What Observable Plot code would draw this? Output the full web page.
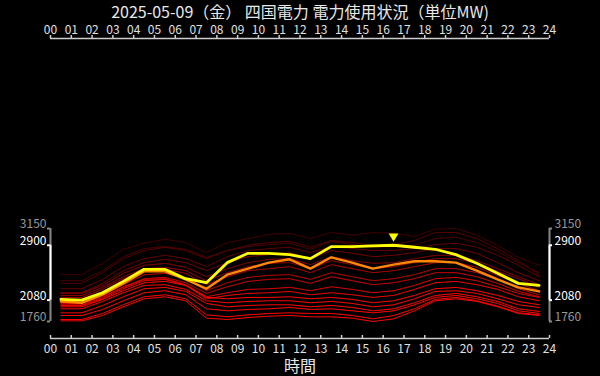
<!DOCTYPE html>
<html><head><meta charset="utf-8">
<script src="https://cdn.jsdelivr.net/npm/d3@7"></script>
<script src="https://cdn.jsdelivr.net/npm/@observablehq/plot@0.6"></script>
<style>
html,body{margin:0;padding:0;background:#000;}
#chart{width:600px;height:376px;overflow:hidden;}
</style></head><body><div id="chart"></div>
<script>
const titleText = "2025-05-09（金） 四国電力 電力使用状況（単位MW)";
const xLabel = "時間";
const hours = [0.5,1.5,2.5,3.5,4.5,5.5,6.5,7.5,8.5,9.5,10.5,11.5,12.5,13.5,14.5,15.5,16.5,17.5,18.5,19.5,20.5,21.5,22.5,23.5];
const tickHours = [0,1,2,3,4,5,6,7,8,9,10,11,12,13,14,15,16,17,18,19,20,21,22,23,24];
const yDomain = [1506, 5991];
const allMin = 1760, allMax = 3150, todayMin = 2080, todayMax = 2900;
const peakHour = 16.5;

const today =     [2090,2080,2190,2360,2540,2540,2400,2340,2640,2780,2780,2760,2700,2880,2880,2890,2900,2870,2840,2760,2630,2480,2330,2300];
const yesterday = [2060,2040,2160,2330,2510,2510,2390,2250,2460,2550,2640,2690,2550,2720,2640,2550,2610,2660,2660,2640,2520,2390,2270,2210];

const p01 = [2460,2460,2630,2840,2930,2990,2940,2790,2940,3000,3060,3080,3000,3090,3050,3090,3080,3030,3140,3150,3050,2900,2720,2600];
const p02 = [2370,2370,2520,2730,2850,2880,2840,2720,2820,2880,2910,2930,2840,2960,2910,2870,2880,2900,3000,3020,2940,2810,2640,2490];
const p03 = [2330,2330,2490,2700,2820,2870,2820,2700,2820,2900,2940,2960,2870,2970,2940,2900,2910,2970,3090,3090,3000,2850,2670,2460];
const p04 = [2250,2250,2390,2580,2700,2750,2700,2580,2730,2820,2850,2870,2790,2880,2850,2820,2820,2850,2910,2930,2870,2750,2600,2430];
const p05 = [2190,2190,2330,2520,2640,2690,2640,2520,2640,2730,2760,2790,2700,2820,2780,2730,2750,2790,2850,2850,2780,2640,2490,2370];
const p06 = [2180,2180,2300,2480,2600,2630,2570,2430,2550,2640,2690,2700,2610,2730,2670,2630,2640,2700,2750,2750,2670,2550,2430,2310];
const p07 = [2150,2150,2270,2430,2550,2570,2520,2370,2490,2580,2630,2640,2550,2670,2610,2550,2580,2640,2700,2700,2630,2510,2400,2270];
const p08 = [2120,2120,2240,2400,2520,2540,2480,2310,2430,2520,2550,2580,2490,2610,2550,2490,2520,2580,2640,2640,2570,2450,2330,2220];
const p09 = [2040,2040,2160,2310,2460,2480,2400,2220,2340,2420,2450,2460,2390,2490,2430,2370,2400,2460,2550,2550,2490,2390,2250,2160];
const p10 = [2030,2030,2130,2280,2400,2420,2340,2180,2280,2360,2390,2400,2330,2430,2370,2310,2340,2400,2490,2490,2430,2330,2210,2130];
const p11 = [2010,2010,2120,2270,2390,2400,2310,2130,2190,2240,2250,2270,2220,2280,2240,2190,2220,2300,2400,2420,2370,2280,2180,2120];
const p12 = [2000,2000,2100,2250,2370,2390,2300,2100,2150,2180,2190,2210,2160,2190,2160,2120,2150,2240,2340,2360,2310,2240,2130,2070];
const p13 = [1980,1980,2090,2220,2340,2360,2300,2120,2100,2120,2120,2130,2100,2120,2090,2040,2070,2150,2250,2270,2220,2150,2060,2010];
const p14 = [1950,1950,2060,2190,2300,2310,2240,2070,2040,2060,2070,2070,2040,2060,2030,1980,2010,2100,2210,2220,2180,2100,2010,1970];
const p15 = [1890,1890,2000,2130,2250,2270,2210,2030,1980,2000,2010,2010,1980,2000,1970,1920,1950,2040,2150,2180,2130,2060,1950,1910];
const p16 = [1850,1850,1940,2070,2190,2220,2160,1950,1920,1940,1950,1970,1940,1950,1920,1890,1920,2010,2120,2150,2100,2030,1920,1880];
const p17 = [1790,1790,1880,2010,2130,2160,2100,1860,1830,1860,1880,1890,1880,1880,1850,1800,1850,1950,2090,2120,2070,1990,1890,1860];
const p18 = [1770,1770,1850,1980,2100,2130,2070,1810,1790,1820,1840,1850,1830,1830,1810,1760,1800,1920,2070,2100,2060,1980,1880,1850];
const pastSeries = [p01,p02,p03,p04,p05,p06,p07,p08,p09,p10,p11,p12,p13,p14,p15,p16,p17,p18];
const pastColors = ["#420000","#4c0000","#580000","#640000","#740000","#840000","#940000","#a80000","#bc0000","#cc0000","#dd0000","#ee0000","#ff0000","#ff0000","#ff0000","#ff0000","#ff0000","#ff0000"];

const pastRows = [];
pastSeries.forEach((vals, i) => vals.forEach((v, j) => pastRows.push({s: i, hour: hours[j], value: v, color: pastColors[i]})));
const todayRows = today.map((v, j) => ({hour: hours[j], value: v}));
const yestRows = yesterday.map((v, j) => ({hour: hours[j], value: v}));
const pad2 = d => String(d).padStart(2, "0");

const chart = Plot.plot({
  width: 600, height: 376,
  marginTop: 38, marginBottom: 38, marginLeft: 50, marginRight: 51,
  style: {background: "#000", color: "#ddd", fontFamily: "'Noto Sans CJK JP','Noto Sans',sans-serif", fontSize: "12px", overflow: "visible"},
  x: {domain: [0, 24], axis: null},
  y: {domain: yDomain, axis: null},
  marks: [
    Plot.line(pastRows, {x: "hour", y: "value", z: "s", stroke: "color", strokeWidth: 1}),
    Plot.line(yestRows, {x: "hour", y: "value", stroke: "#ff8800", strokeWidth: 2.4}),
    Plot.line(todayRows, {x: "hour", y: "value", stroke: "#ffff00", strokeWidth: 2.8}),
    Plot.dot([{hour: peakHour, value: todayMax}], {x: "hour", y: "value", symbol: "triangle", rotate: 180, r: 3.6, fill: "#ffff00", stroke: "none", dy: -9}),
    // x axes lines
    Plot.ruleY([yDomain[0], yDomain[1]], {x1: 0, x2: 24, stroke: "#cccccc", strokeWidth: 1.5}),
    Plot.ruleX(tickHours, {y1: yDomain[0], y2: yDomain[0], insetTop: -3, stroke: "#cccccc", strokeWidth: 1.5}),
    Plot.ruleX(tickHours, {y1: yDomain[1], y2: yDomain[1], insetTop: -3, stroke: "#cccccc", strokeWidth: 1.5}),
    Plot.text(tickHours, {x: d => d, frameAnchor: "top", lineAnchor: "middle", dy: -8, text: pad2, fill: "#e0e0e0", fontSize: 12}),
    Plot.text(tickHours, {x: d => d, frameAnchor: "bottom", lineAnchor: "middle", dy: 11, text: pad2, fill: "#e0e0e0", fontSize: 12}),
    // y range brackets (left and right)
    Plot.ruleX([0, 24], {y1: allMin, y2: allMax, stroke: "#888", strokeWidth: 2}),
    Plot.ruleY([allMin, allMax], {x1: 0, x2: 0, insetLeft: -3, stroke: "#888", strokeWidth: 2}),
    Plot.ruleY([allMin, allMax], {x1: 24, x2: 24, insetRight: -3, stroke: "#888", strokeWidth: 2}),
    Plot.ruleX([0, 24], {y1: todayMin, y2: todayMax, stroke: "#fff", strokeWidth: 2}),
    Plot.ruleY([todayMin, todayMax], {x1: 0, x2: 0, insetLeft: -3, stroke: "#fff", strokeWidth: 2}),
    Plot.ruleY([todayMin, todayMax], {x1: 24, x2: 24, insetRight: -3, stroke: "#fff", strokeWidth: 2}),
    Plot.text([allMin, allMax], {x: 0, y: d => d, text: d => String(d), textAnchor: "end", dx: -4, dy: -4, fill: "#999", fontSize: 12}),
    Plot.text([todayMin, todayMax], {x: 0, y: d => d, text: d => String(d), textAnchor: "end", dx: -4, dy: -4, fill: "#fff", fontSize: 12}),
    Plot.text([allMin, allMax], {x: 24, y: d => d, text: d => String(d), textAnchor: "start", dx: 5, dy: -4, fill: "#999", fontSize: 12}),
    Plot.text([todayMin, todayMax], {x: 24, y: d => d, text: d => String(d), textAnchor: "start", dx: 5, dy: -4, fill: "#fff", fontSize: 12}),
    // title and x label
    Plot.text([titleText], {frameAnchor: "top", lineAnchor: "middle", dy: -26, text: d => d, fill: "#e8e8e8", fontSize: 16}),
    Plot.text([xLabel], {frameAnchor: "bottom", lineAnchor: "middle", dy: 28, text: d => d, fill: "#e8e8e8", fontSize: 16})
  ]
});
document.getElementById("chart").appendChild(chart);
</script></body></html>
